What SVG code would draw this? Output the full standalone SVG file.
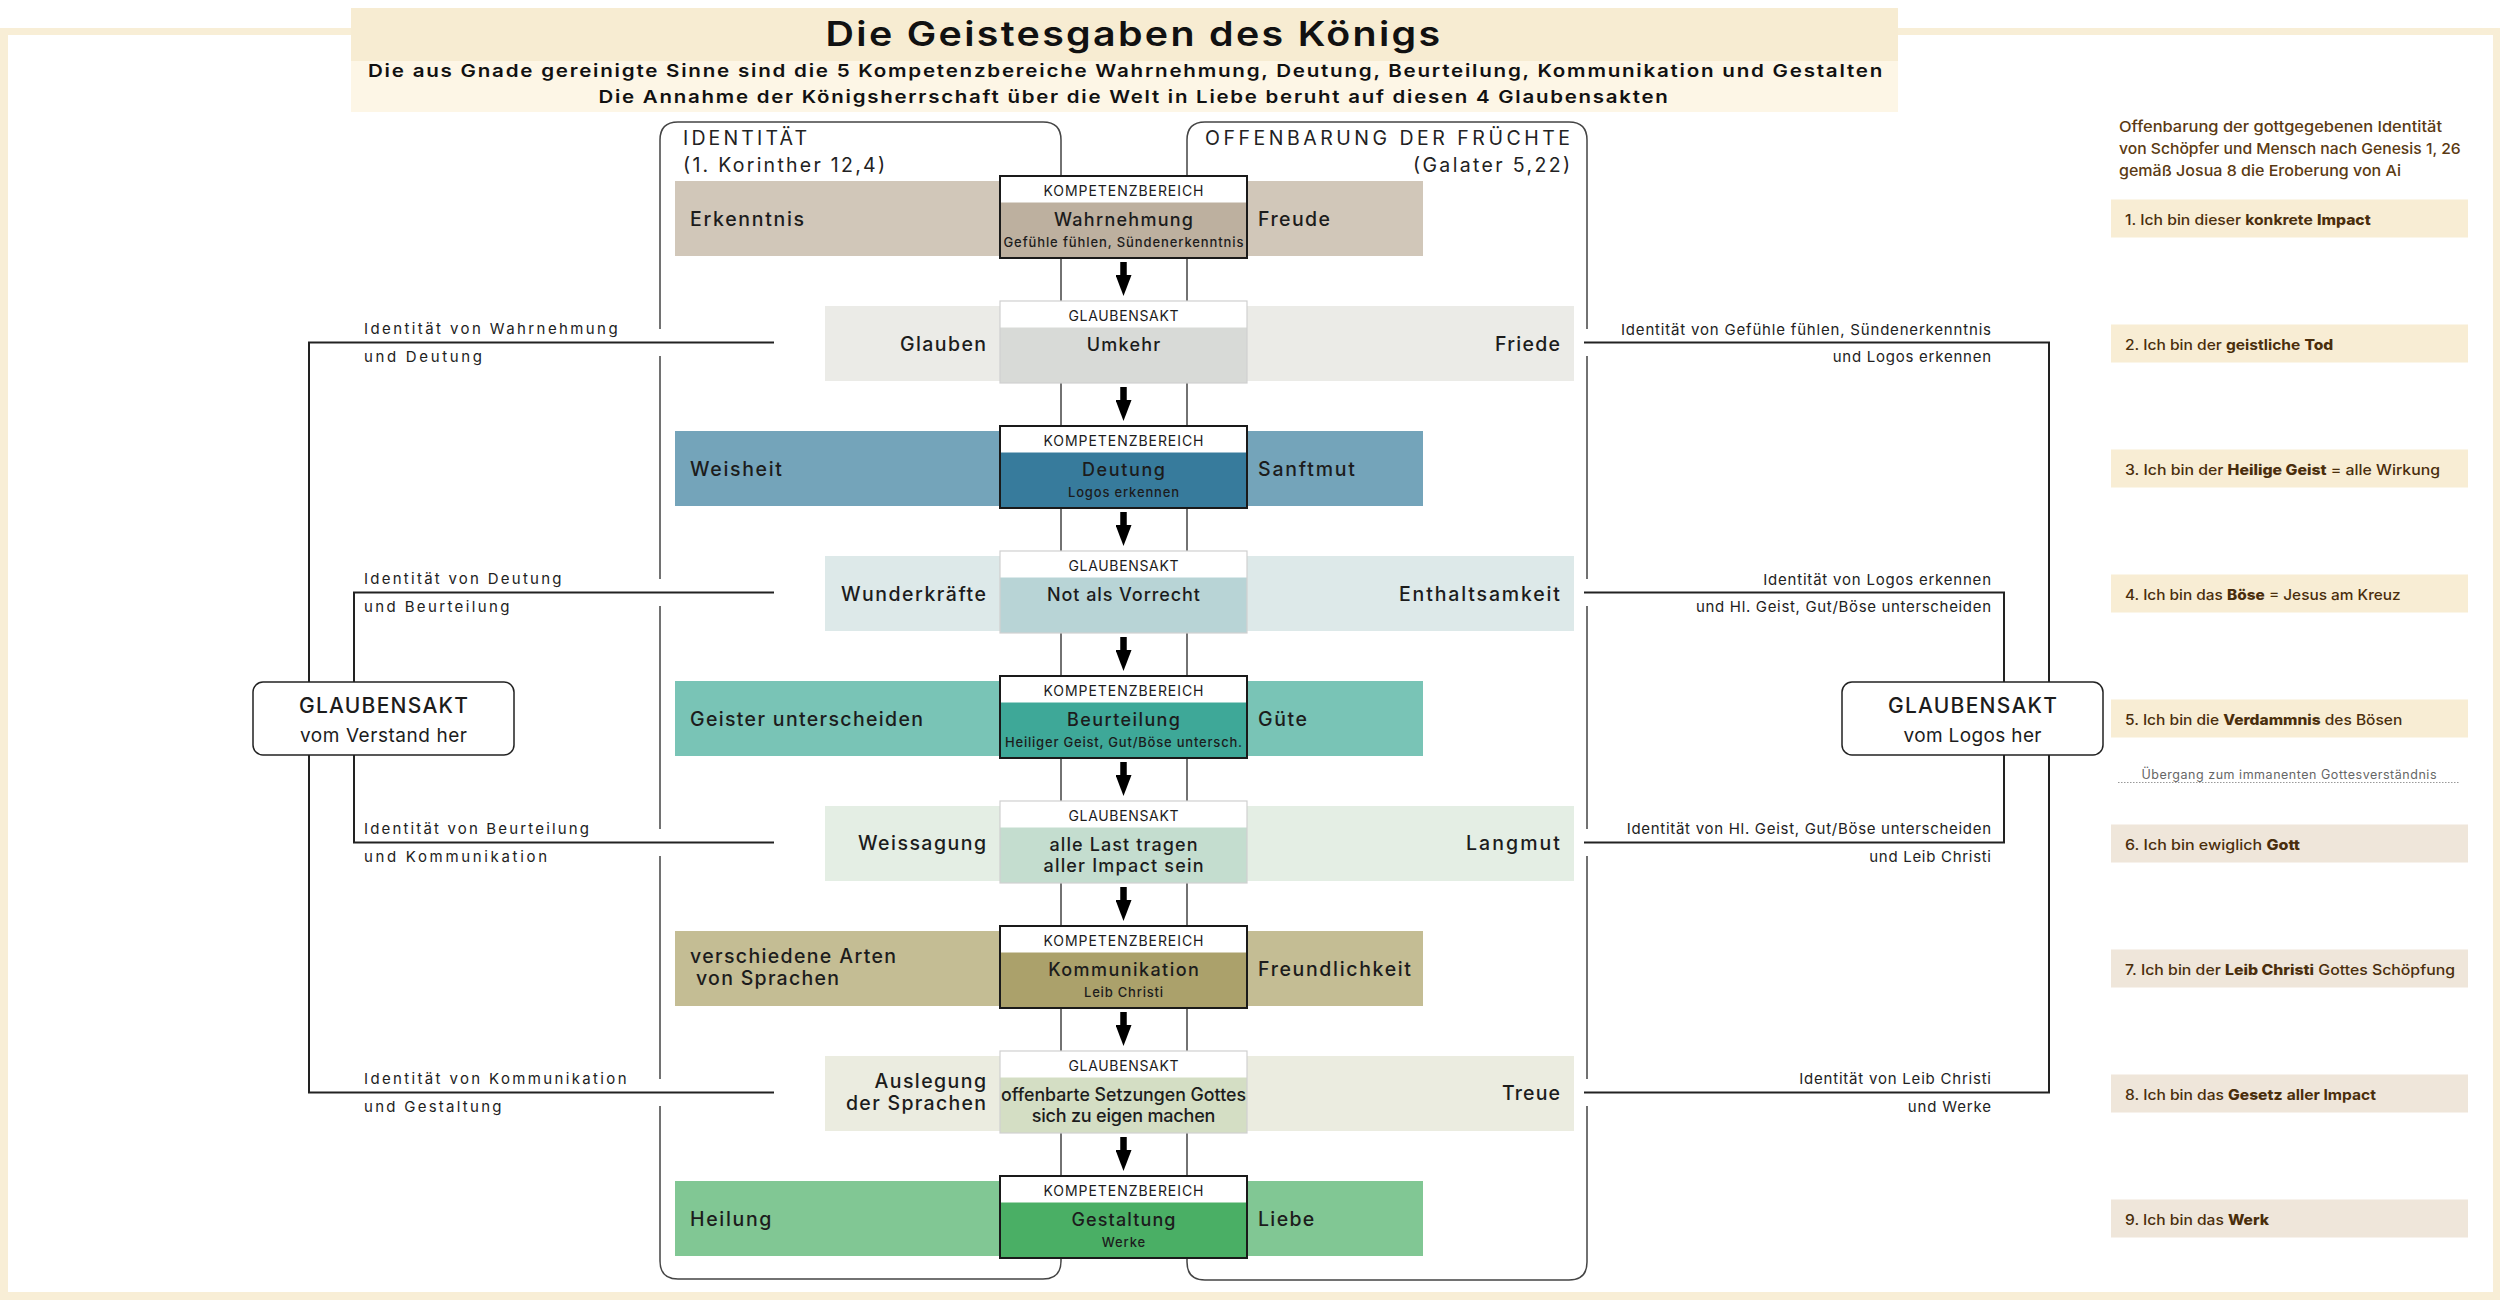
<svg xmlns="http://www.w3.org/2000/svg" width="2500" height="1300" viewBox="0 0 2500 1300">
<defs>
<style>
text{font-family:Inter,'Noto Sans','Liberation Sans',sans-serif;fill:#1c1c1c}
.title{font-size:34px;font-weight:600;fill:#111;letter-spacing:2px}
.subt{font-size:17.5px;font-weight:600;fill:#111;letter-spacing:1.5px}
.chead{font-size:19.5px;font-weight:400;fill:#222}
.lbl{font-size:19.5px;font-weight:500}
.hdr{font-size:14px;font-weight:400}
.main{font-size:18px;font-weight:500}
.sub{font-size:13px;font-weight:500}
.side{font-size:15px;font-weight:400;fill:#222}
.gbt{font-size:21px;font-weight:500}
.gbs{font-size:19px;font-weight:400}
.rh{font-size:15px;font-weight:500;fill:#5b3a12}
.item{font-size:14.5px;font-weight:500;fill:#4a2e0c}
.b{font-weight:800}
.sb{font-weight:650}
.note{font-size:12.5px;font-weight:400;fill:#666}
.cont{fill:none;stroke:#444;stroke-width:1.5}
.conn{fill:none;stroke:#222;stroke-width:2}
.arrow{stroke:#000;stroke-width:6.5;fill:none}
.kbox{fill:none;stroke:#1a1a1a;stroke-width:2}
.gbox{fill:none;stroke:#d0d0d0;stroke-width:1.2}
.hw{fill:#fff}
.node{fill:#fff;stroke:#222;stroke-width:1.5}
.itemA{fill:#f8edd4}
.itemB{fill:#efe6da}
.m{text-anchor:middle}
.e{text-anchor:end}
</style>
<marker id="ah" markerUnits="userSpaceOnUse" markerWidth="21" markerHeight="16" refX="0" refY="8" orient="auto" viewBox="0 0 21 16"><path d="M0,0 L21,8 L0,16 z" fill="#000"/></marker>
</defs>

<g id="background">
<rect x="0" y="0" width="2500" height="1300" fill="#fff"/>
<rect x="0" y="28" width="2500" height="1272" fill="#f8eed6"/>
<rect x="8" y="35" width="2485" height="1257" fill="#fff"/>
</g>

<g id="header">
<rect x="351" y="8" width="1547" height="53" fill="#f7ecd2"/>
<rect x="351" y="61" width="1547" height="51" fill="#fdf6e6"/>
<text class="title m" x="1134" y="46" textLength="617" lengthAdjust="spacingAndGlyphs">Die Geistesgaben des Königs</text>
<text class="subt m" x="1126" y="77" textLength="1516" lengthAdjust="spacingAndGlyphs">Die aus Gnade gereinigte Sinne sind die 5 Kompetenzbereiche Wahrnehmung, Deutung, Beurteilung, Kommunikation und Gestalten</text>
<text class="subt m" x="1134" y="103" textLength="1071" lengthAdjust="spacingAndGlyphs">Die Annahme der Königsherrschaft über die Welt in Liebe beruht auf diesen 4 Glaubensakten</text>
</g>

<g id="container-identitaet">
<path class="cont" d="M660,329 V140 Q660,122 678,122 H1043 Q1061,122 1061,140 V1261 Q1061,1279 1043,1279 H678 Q660,1279 660,1261 V1106 M660,356 V579 M660,606 V829 M660,856 V1079"/>
<text class="chead" x="683" y="145" textLength="124">IDENTITÄT</text>
<text class="chead" x="683" y="172" textLength="202">(1. Korinther 12,4)</text>
</g>

<g id="container-fruechte">
<path class="cont" d="M1587,329 V140 Q1587,122 1569,122 H1205 Q1187,122 1187,140 V1262 Q1187,1280 1205,1280 H1569 Q1587,1280 1587,1262 V1106 M1587,356 V579 M1587,606 V829 M1587,856 V1079"/>
<text class="chead e" x="1570" y="145" textLength="365">OFFENBARUNG DER FRÜCHTE</text>
<text class="chead e" x="1570" y="172" textLength="157">(Galater 5,22)</text>
</g>

<g id="row1-wahrnehmung">
<rect x="675" y="181" width="748" height="75" fill="#d1c7b9"/>
<text class="lbl" x="690" y="226" textLength="114">Erkenntnis</text>
<text class="lbl" x="1258" y="226" textLength="72">Freude</text>
<rect x="1000" y="176" width="247" height="82" fill="#bdb09f"/>
<rect class="hw" x="1000" y="176" width="247" height="26.5"/>
<rect class="kbox" x="1000" y="176" width="247" height="82"/>
<text class="hdr m" x="1123.5" y="196" textLength="160">KOMPETENZBEREICH</text>
<text class="main m" x="1123.5" y="226" textLength="139">Wahrnehmung</text>
<text class="sub m" x="1123.5" y="246.5" textLength="240">Gefühle fühlen, Sündenerkenntnis</text>
</g>

<g id="row2-umkehr">
<rect x="825" y="306" width="749" height="75" fill="#ebebe7"/>
<text class="lbl e" x="986" y="351" textLength="86">Glauben</text>
<text class="lbl e" x="1560" y="351" textLength="65">Friede</text>
<rect x="1000" y="301" width="247" height="82" fill="#d8dad7"/>
<rect class="hw" x="1000" y="301" width="247" height="26.5"/>
<rect class="gbox" x="1000" y="301" width="247" height="82"/>
<text class="hdr m" x="1123.5" y="321" textLength="110">GLAUBENSAKT</text>
<text class="main m" x="1123.5" y="351" textLength="73.5">Umkehr</text>
</g>

<g id="row3-deutung">
<rect x="675" y="431" width="748" height="75" fill="#74a4ba"/>
<text class="lbl" x="690" y="476" textLength="92">Weisheit</text>
<text class="lbl" x="1258" y="476" textLength="97">Sanftmut</text>
<rect x="1000" y="426" width="247" height="82" fill="#377b9c"/>
<rect class="hw" x="1000" y="426" width="247" height="26.5"/>
<rect class="kbox" x="1000" y="426" width="247" height="82"/>
<text class="hdr m" x="1123.5" y="446" textLength="160">KOMPETENZBEREICH</text>
<text class="main m" x="1123.5" y="476" textLength="83">Deutung</text>
<text class="sub m" x="1123.5" y="496.5" textLength="111">Logos erkennen</text>
</g>

<g id="row4-not-als-vorrecht">
<rect x="825" y="556" width="749" height="75" fill="#dde9e9"/>
<text class="lbl e" x="986" y="601" textLength="145">Wunderkräfte</text>
<text class="lbl e" x="1560" y="601" textLength="161">Enthaltsamkeit</text>
<rect x="1000" y="551" width="247" height="82" fill="#b8d4d6"/>
<rect class="hw" x="1000" y="551" width="247" height="26.5"/>
<rect class="gbox" x="1000" y="551" width="247" height="82"/>
<text class="hdr m" x="1123.5" y="571" textLength="110">GLAUBENSAKT</text>
<text class="main m" x="1123.5" y="601" textLength="153">Not als Vorrecht</text>
</g>

<g id="row5-beurteilung">
<rect x="675" y="681" width="748" height="75" fill="#79c4b6"/>
<text class="lbl" x="690" y="726" textLength="233">Geister unterscheiden</text>
<text class="lbl" x="1258" y="726" textLength="49">Güte</text>
<rect x="1000" y="676" width="247" height="82" fill="#3ea898"/>
<rect class="hw" x="1000" y="676" width="247" height="26.5"/>
<rect class="kbox" x="1000" y="676" width="247" height="82"/>
<text class="hdr m" x="1123.5" y="696" textLength="160">KOMPETENZBEREICH</text>
<text class="main m" x="1123.5" y="726" textLength="113">Beurteilung</text>
<text class="sub m" x="1123.5" y="746.5" textLength="237">Heiliger Geist, Gut/Böse untersch.</text>
</g>

<g id="row6-last-tragen">
<rect x="825" y="806" width="749" height="75" fill="#e4eee4"/>
<text class="lbl e" x="986" y="850" textLength="128">Weissagung</text>
<text class="lbl e" x="1560" y="850" textLength="94">Langmut</text>
<rect x="1000" y="801" width="247" height="82" fill="#c4ddcf"/>
<rect class="hw" x="1000" y="801" width="247" height="26.5"/>
<rect class="gbox" x="1000" y="801" width="247" height="82"/>
<text class="hdr m" x="1123.5" y="821" textLength="110">GLAUBENSAKT</text>
<text class="main m" x="1123.5" y="851" textLength="148">alle Last tragen</text>
<text class="main m" x="1123.5" y="872" textLength="160">aller Impact sein</text>
</g>

<g id="row7-kommunikation">
<rect x="675" y="931" width="748" height="75" fill="#c4bd94"/>
<text class="lbl" x="690" y="963" textLength="206">verschiedene Arten</text>
<text class="lbl" x="696" y="985" textLength="143">von Sprachen</text>
<text class="lbl" x="1258" y="976" textLength="153">Freundlichkeit</text>
<rect x="1000" y="926" width="247" height="82" fill="#aba16b"/>
<rect class="hw" x="1000" y="926" width="247" height="26.5"/>
<rect class="kbox" x="1000" y="926" width="247" height="82"/>
<text class="hdr m" x="1123.5" y="946" textLength="160">KOMPETENZBEREICH</text>
<text class="main m" x="1123.5" y="976" textLength="150.6">Kommunikation</text>
<text class="sub m" x="1123.5" y="996.5" textLength="79">Leib Christi</text>
</g>

<g id="row8-setzungen">
<rect x="825" y="1056" width="749" height="75" fill="#ebece0"/>
<text class="lbl e" x="986" y="1088" textLength="111.5">Auslegung</text>
<text class="lbl e" x="986" y="1110" textLength="140">der Sprachen</text>
<text class="lbl e" x="1560" y="1100" textLength="58">Treue</text>
<rect x="1000" y="1051" width="247" height="82" fill="#d4dec4"/>
<rect class="hw" x="1000" y="1051" width="247" height="26.5"/>
<rect class="gbox" x="1000" y="1051" width="247" height="82"/>
<text class="hdr m" x="1123.5" y="1071" textLength="110">GLAUBENSAKT</text>
<text class="main m" x="1123.5" y="1101" textLength="245" lengthAdjust="spacingAndGlyphs">offenbarte Setzungen Gottes</text>
<text class="main m" x="1123.5" y="1122" textLength="183.7">sich zu eigen machen</text>
</g>

<g id="row9-gestaltung">
<rect x="675" y="1181" width="748" height="75" fill="#81c794"/>
<text class="lbl" x="690" y="1226" textLength="81.4">Heilung</text>
<text class="lbl" x="1258" y="1226" textLength="56.3">Liebe</text>
<rect x="1000" y="1176" width="247" height="82" fill="#4aaf65"/>
<rect class="hw" x="1000" y="1176" width="247" height="26.5"/>
<rect class="kbox" x="1000" y="1176" width="247" height="82"/>
<text class="hdr m" x="1123.5" y="1196" textLength="160">KOMPETENZBEREICH</text>
<text class="main m" x="1123.5" y="1226" textLength="104">Gestaltung</text>
<text class="sub m" x="1123.5" y="1246.5" textLength="43.5">Werke</text>
</g>

<g id="connectors">
<line class="arrow" x1="1123.5" y1="262" x2="1123.5" y2="275" marker-end="url(#ah)"/>
<line class="arrow" x1="1123.5" y1="387" x2="1123.5" y2="400" marker-end="url(#ah)"/>
<line class="arrow" x1="1123.5" y1="512" x2="1123.5" y2="525" marker-end="url(#ah)"/>
<line class="arrow" x1="1123.5" y1="637" x2="1123.5" y2="650" marker-end="url(#ah)"/>
<line class="arrow" x1="1123.5" y1="762" x2="1123.5" y2="775" marker-end="url(#ah)"/>
<line class="arrow" x1="1123.5" y1="887" x2="1123.5" y2="900" marker-end="url(#ah)"/>
<line class="arrow" x1="1123.5" y1="1012" x2="1123.5" y2="1025" marker-end="url(#ah)"/>
<line class="arrow" x1="1123.5" y1="1137" x2="1123.5" y2="1150" marker-end="url(#ah)"/>
<path class="conn" d="M774,342.5 H309 V1092.5 H774"/>
<path class="conn" d="M774,592.5 H354 V842.5 H774"/>
<path class="conn" d="M1584,342.5 H2049 V1092.5 H1584"/>
<path class="conn" d="M1584,592.5 H2004 V842.5 H1584"/>
<text class="side" x="364" y="334" textLength="253.6">Identität von Wahrnehmung</text>
<text class="side" x="364" y="361.5" textLength="118">und Deutung</text>
<text class="side" x="364" y="584" textLength="197.5">Identität von Deutung</text>
<text class="side" x="364" y="611.5" textLength="145.4">und Beurteilung</text>
<text class="side" x="364" y="834" textLength="225">Identität von Beurteilung</text>
<text class="side" x="364" y="861.5" textLength="183">und Kommunikation</text>
<text class="side" x="364" y="1084" textLength="262.5">Identität von Kommunikation</text>
<text class="side" x="364" y="1111.5" textLength="137.5">und Gestaltung</text>
<text class="side e" x="1991" y="334.5" textLength="370">Identität von Gefühle fühlen, Sündenerkenntnis</text>
<text class="side e" x="1991" y="362" textLength="158.3">und Logos erkennen</text>
<text class="side e" x="1991" y="584.5" textLength="227.7">Identität von Logos erkennen</text>
<text class="side e" x="1991" y="611.5" textLength="295">und Hl. Geist, Gut/Böse unterscheiden</text>
<text class="side e" x="1991" y="834" textLength="364.3">Identität von Hl. Geist, Gut/Böse unterscheiden</text>
<text class="side e" x="1991" y="861.5" textLength="121.7">und Leib Christi</text>
<text class="side e" x="1991" y="1084" textLength="191.7">Identität von Leib Christi</text>
<text class="side e" x="1991" y="1111.5" textLength="83.3">und Werke</text>
</g>

<g id="glaubensakt-verstand">
<rect class="node" x="253" y="682" width="261" height="73" rx="10"/>
<text class="gbt m" x="383.5" y="713" textLength="169">GLAUBENSAKT</text>
<text class="gbs m" x="383.5" y="742" textLength="167">vom Verstand her</text>
</g>

<g id="glaubensakt-logos">
<rect class="node" x="1842" y="682" width="261" height="73" rx="10"/>
<text class="gbt m" x="1972.5" y="713" textLength="169">GLAUBENSAKT</text>
<text class="gbs m" x="1972.5" y="742" textLength="138">vom Logos her</text>
</g>

<g id="identitaet-liste">
<text class="rh" x="2119" y="131.5" textLength="323" lengthAdjust="spacingAndGlyphs">Offenbarung der gottgegebenen Identität</text>
<text class="rh" x="2119" y="154" textLength="341.7" lengthAdjust="spacingAndGlyphs">von Schöpfer und Mensch nach Genesis 1, 26</text>
<text class="rh" x="2119" y="176" textLength="282" lengthAdjust="spacingAndGlyphs">gemäß Josua 8 die Eroberung von Ai</text>
<rect class="itemA" x="2111" y="199.5" width="357" height="38"/>
<text class="item" x="2125" y="224.5" textLength="245.7" lengthAdjust="spacingAndGlyphs">1. Ich bin dieser <tspan class="sb">konkrete</tspan> <tspan class="b">Impact</tspan></text>
<rect class="itemA" x="2111" y="324.5" width="357" height="38"/>
<text class="item" x="2125" y="349.5" textLength="208.3" lengthAdjust="spacingAndGlyphs">2. Ich bin der <tspan class="sb">geistliche</tspan> <tspan class="b">Tod</tspan></text>
<rect class="itemA" x="2111" y="449.5" width="357" height="38"/>
<text class="item" x="2125" y="474.5" textLength="315" lengthAdjust="spacingAndGlyphs">3. Ich bin der <tspan class="b">Heilige Geist</tspan> = alle Wirkung</text>
<rect class="itemA" x="2111" y="574.5" width="357" height="38"/>
<text class="item" x="2125" y="599.5" textLength="275.7" lengthAdjust="spacingAndGlyphs">4. Ich bin das <tspan class="b">Böse</tspan> = Jesus am Kreuz</text>
<rect class="itemA" x="2111" y="699.5" width="357" height="38"/>
<text class="item" x="2125" y="724.5" textLength="277.3" lengthAdjust="spacingAndGlyphs">5. Ich bin die <tspan class="b">Verdammnis</tspan> des Bösen</text>
<text class="note m" x="2289" y="778.5" textLength="295">Übergang zum immanenten Gottesverständnis</text>
<line x1="2118" y1="782.5" x2="2460" y2="782.5" stroke="#999" stroke-width="1" stroke-dasharray="1.5,1.5"/>
<rect class="itemB" x="2111" y="824.5" width="357" height="38"/>
<text class="item" x="2125" y="849.5" textLength="175" lengthAdjust="spacingAndGlyphs">6. Ich bin ewiglich <tspan class="b">Gott</tspan></text>
<rect class="itemB" x="2111" y="949.5" width="357" height="38"/>
<text class="item" x="2125" y="974.5" textLength="330" lengthAdjust="spacingAndGlyphs">7. Ich bin der <tspan class="b">Leib Christi</tspan> Gottes Schöpfung</text>
<rect class="itemB" x="2111" y="1074.5" width="357" height="38"/>
<text class="item" x="2125" y="1099.5" textLength="251" lengthAdjust="spacingAndGlyphs">8. Ich bin das <tspan class="b">Gesetz</tspan> <tspan class="sb">aller Impact</tspan></text>
<rect class="itemB" x="2111" y="1199.5" width="357" height="38"/>
<text class="item" x="2125" y="1224.5" textLength="144" lengthAdjust="spacingAndGlyphs">9. Ich bin das <tspan class="b">Werk</tspan></text>
</g>
</svg>
